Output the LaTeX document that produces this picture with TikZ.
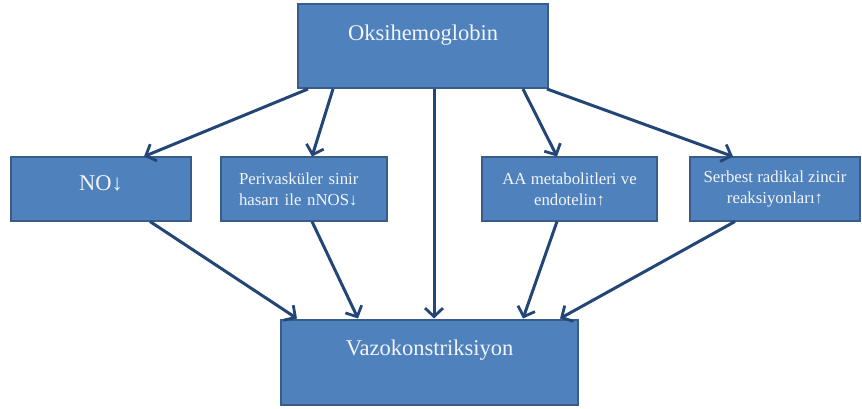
\documentclass[tikz,border=0pt]{standalone}
\usepackage{fontspec}
\setmainfont{Liberation Serif}
\usetikzlibrary{arrows.meta}
\definecolor{boxFill}{HTML}{4F81BD}
\definecolor{boxBorder}{HTML}{385D8A}
\definecolor{arrowCol}{HTML}{234677}
\definecolor{boxText}{HTML}{F2F5FA}
\tikzset{
boxstyle/.style={rectangle, draw=boxBorder, line width=2pt, fill=boxFill, text=boxText, inner sep=0pt},
bigbox/.style={boxstyle, font=\fontsize{22.5}{26}\selectfont},
smallbox/.style={boxstyle, font=\fontsize{16.8}{21}\selectfont, align=center, minimum height=63pt},
arrowstyle/.style={draw=arrowCol, line width=3pt, -{Straight Barb[length=8.5pt, width=18pt, line width=2.8pt]}}
}
\newcommand{\link}[4]{
  \draw[arrowstyle] ([xshift=#2pt]#1) -- ([xshift=#4pt]#3);
}
\begin{document}
\begin{tikzpicture}[x=1pt, y=-1pt]
\useasboundingbox (0,0) rectangle (862,409);

\node [bigbox, minimum width=250pt, minimum height=84pt, text height=16pt, text depth=27pt] (oksi) at (423,46) {Oksihemoglobin};

\node [bigbox, minimum width=180pt, minimum height=63pt, text height=16pt, text depth=13pt] (no) at (101,189) {NO↓};
\node [smallbox, minimum width=166pt, text width=130pt, align=left] (peri) at (304,189) {Perivasküler sinir\\hasarı ile nNOS↓};
\node [smallbox, minimum width=175pt] (aa) at (569.5,189) {AA metabolitleri ve\\endotelin↑};
\node [smallbox, minimum width=170pt] (serbest) at (775,189) {Serbest radikal zincir\\reaksiyonları↑};

\node [bigbox, minimum width=297pt, minimum height=85pt, text height=16pt, text depth=30pt] (vazo) at (429.5,362) {Vazokonstriksiyon};

% from the top box
\link{oksi.south}{-115}{no.north}{43}
\link{oksi.south}{-90}{peri.north}{8}
\link{oksi.south}{11}{vazo.north}{4.5}
\link{oksi.south}{100}{aa.north}{-12.5}
\link{oksi.south}{124}{serbest.north}{-42}

% into the bottom box
\link{no.south}{49}{vazo.north}{-132.5}
\link{peri.south}{8}{vazo.north}{-71.5}
\link{aa.south}{-12.5}{vazo.north}{93.5}
\link{serbest.south}{-40}{vazo.north}{130.5}
\end{tikzpicture}
\end{document}
